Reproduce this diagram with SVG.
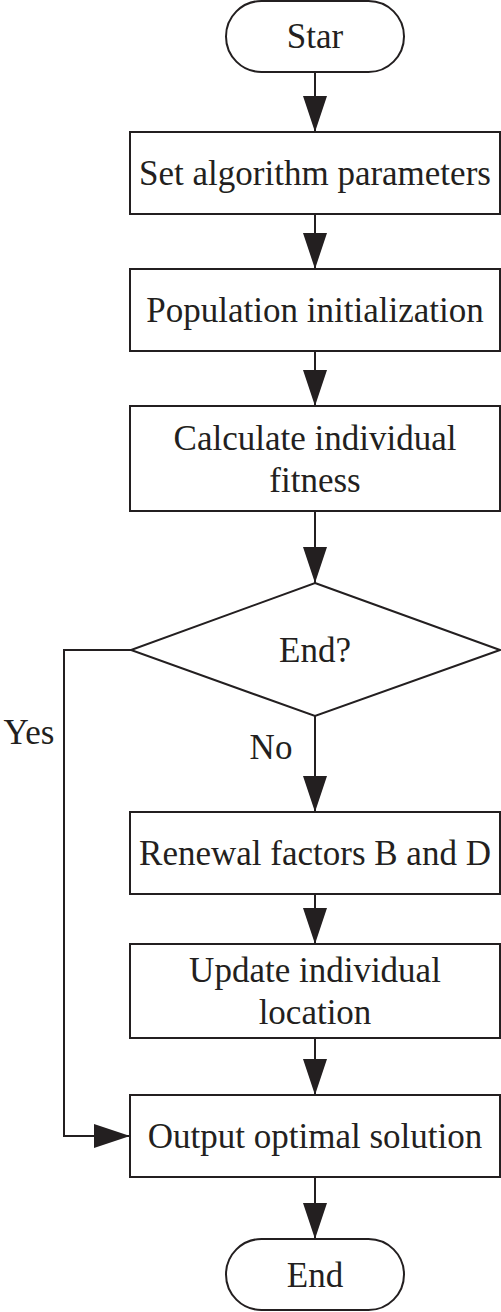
<svg xmlns="http://www.w3.org/2000/svg" width="501" height="1312" viewBox="0 0 501 1312">
<style>
.n{fill:#fff;stroke:#231f20;stroke-width:2}
.t{font-family:"Liberation Serif","Times New Roman",serif;font-size:35px;fill:#231f20;text-anchor:middle}
.c{fill:none;stroke:#231f20;stroke-width:2}
</style>
<defs>
<marker id="ah" markerUnits="userSpaceOnUse" markerWidth="36" markerHeight="26" refX="36" refY="12" orient="auto" viewBox="0 0 36 24">
<path d="M0,0 L36,12 L0,24 Z" fill="#231f20"/>
</marker>
</defs>
<g id="connectors">
<line class="c" x1="315" y1="72" x2="315" y2="132" marker-end="url(#ah)"/>
<line class="c" x1="315" y1="214" x2="315" y2="269" marker-end="url(#ah)"/>
<line class="c" x1="315" y1="351" x2="315" y2="406" marker-end="url(#ah)"/>
<line class="c" x1="315" y1="511" x2="315" y2="583" marker-end="url(#ah)"/>
<line class="c" x1="315" y1="716" x2="315" y2="812" marker-end="url(#ah)"/>
<line class="c" x1="315" y1="894" x2="315" y2="944" marker-end="url(#ah)"/>
<line class="c" x1="315" y1="1038" x2="315" y2="1095" marker-end="url(#ah)"/>
<line class="c" x1="315" y1="1177" x2="315" y2="1239" marker-end="url(#ah)"/>
<polyline class="c" points="131,650 64,650 64,1136 130,1136" marker-end="url(#ah)"/>
<text class="t" x="29" y="744">Yes</text>
<text class="t" x="271" y="759">No</text>
</g>
<g id="start">
<rect class="n" x="226" y="1" width="178" height="71" rx="35.5"/>
<text class="t" x="315" y="48">Star</text>
</g>
<g id="set-params">
<rect class="n" x="130" y="132" width="370" height="82"/>
<text class="t" x="315" y="185">Set algorithm parameters</text>
</g>
<g id="population-init">
<rect class="n" x="130" y="269" width="370" height="82"/>
<text class="t" x="315" y="322">Population initialization</text>
</g>
<g id="calc-fitness">
<rect class="n" x="130" y="406" width="370" height="105"/>
<text class="t" x="315" y="450">Calculate individual</text>
<text class="t" x="315" y="492">fitness</text>
</g>
<g id="end-decision">
<polygon class="n" points="315,583 500,650 315,716 131,650"/>
<text class="t" x="315" y="662">End?</text>
</g>
<g id="renewal">
<rect class="n" x="130" y="812" width="370" height="82"/>
<text class="t" x="315" y="865">Renewal factors B and D</text>
</g>
<g id="update-location">
<rect class="n" x="130" y="944" width="370" height="94"/>
<text class="t" x="315" y="982">Update individual</text>
<text class="t" x="315" y="1024">location</text>
</g>
<g id="output">
<rect class="n" x="130" y="1095" width="370" height="82"/>
<text class="t" x="315" y="1148">Output optimal solution</text>
</g>
<g id="end">
<rect class="n" x="226" y="1239" width="178" height="71" rx="35.5"/>
<text class="t" x="315" y="1287">End</text>
</g>
</svg>
